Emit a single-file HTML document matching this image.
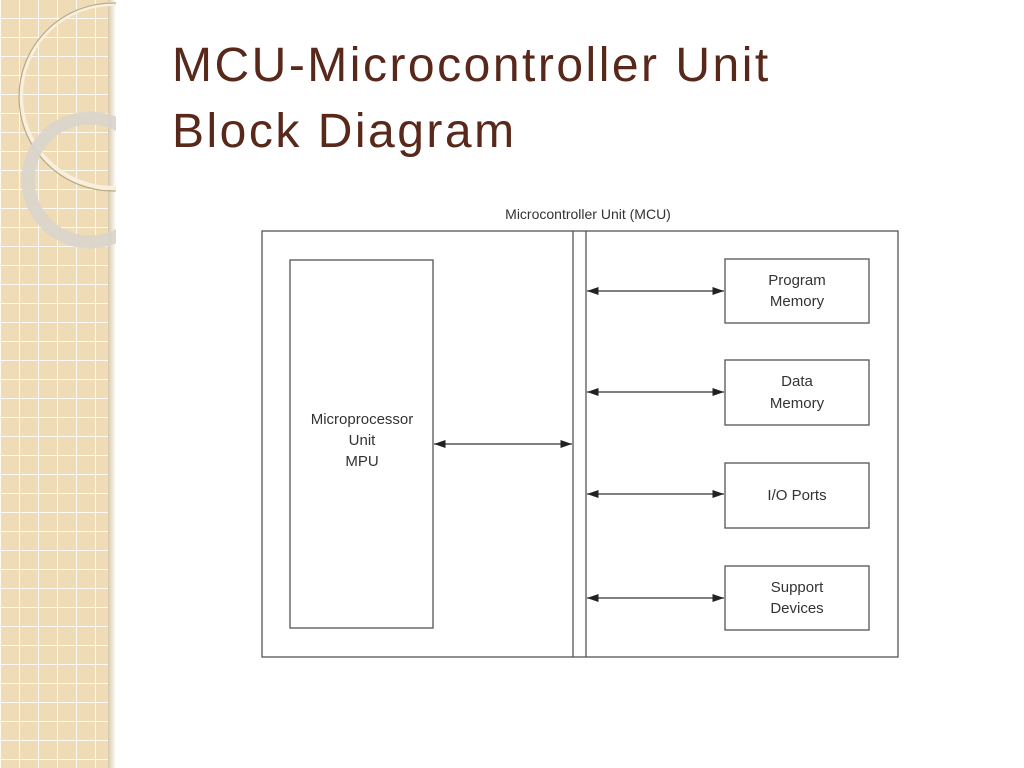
<!DOCTYPE html>
<html><head><style>
body{margin:0;width:1024px;height:768px;background:#fff;position:relative;overflow:hidden;font-family:"Liberation Sans",sans-serif}
#strip{position:absolute;left:0;top:0;width:113px;height:768px;background-color:#efdcb6;
background-image:linear-gradient(90deg,rgba(255,255,255,.85) 1px,transparent 1px),linear-gradient(0deg,rgba(255,255,255,.85) 1px,transparent 1px);background-size:19px 19px}
#shade{position:absolute;left:108px;top:0;width:8px;height:768px;background:linear-gradient(90deg,#d8c8a8,#fff)}
h1{position:absolute;left:172px;top:33px;margin:0;font:48px/66px "Liberation Sans",sans-serif;color:#58281a;letter-spacing:2.5px}
</style></head><body>
<div id="strip"></div><div id="shade"></div>
<svg style="position:absolute;left:0;top:0" width="116" height="260">
<circle cx="113" cy="96" r="92" fill="none" stroke="#f8f0dc" stroke-width="4"/>
<circle cx="113" cy="97" r="94" fill="none" stroke="#b8a888" stroke-width="1.2"/>
<circle cx="90" cy="180" r="62" fill="none" stroke="#d8d4cc" stroke-width="13" opacity=".9"/>
</svg>
<h1>MCU-Microcontroller Unit<br>Block Diagram</h1>
<svg style="position:absolute;left:0;top:0" width="1024" height="768" font-family="Liberation Sans,sans-serif" font-size="15" fill="#333">
<defs><marker id="a" viewBox="0 0 10 10" refX="10" refY="5" markerWidth="9" markerHeight="9" orient="auto-start-reverse"><path d="M0,1.5L10,5L0,8.5z" fill="#222"/></marker></defs>
<text x="588" y="219" text-anchor="middle" font-size="14">Microcontroller Unit (MCU)</text>
<g fill="none" stroke="#555" stroke-width="1.3">
<rect x="262" y="231" width="636" height="426"/>
<line x1="573" y1="231" x2="573" y2="657"/><line x1="586" y1="231" x2="586" y2="657"/>
<rect x="290" y="260" width="143" height="368"/>
<rect x="725" y="259" width="144" height="64"/>
<rect x="725" y="360" width="144" height="65"/>
<rect x="725" y="463" width="144" height="65"/>
<rect x="725" y="566" width="144" height="64"/>
</g>
<g stroke="#333" stroke-width="1.3" marker-start="url(#a)" marker-end="url(#a)">
<line x1="434" y1="444" x2="572" y2="444"/>
<line x1="587" y1="291" x2="724" y2="291"/>
<line x1="587" y1="392" x2="724" y2="392"/>
<line x1="587" y1="494" x2="724" y2="494"/>
<line x1="587" y1="598" x2="724" y2="598"/>
</g>
<g text-anchor="middle">
<text x="362" y="424">Microprocessor</text><text x="362" y="445">Unit</text><text x="362" y="466">MPU</text>
<text x="797" y="285">Program</text><text x="797" y="306">Memory</text>
<text x="797" y="386">Data</text><text x="797" y="408">Memory</text>
<text x="797" y="500">I/O Ports</text>
<text x="797" y="592">Support</text><text x="797" y="613">Devices</text>
</g>
</svg>
</body></html>
